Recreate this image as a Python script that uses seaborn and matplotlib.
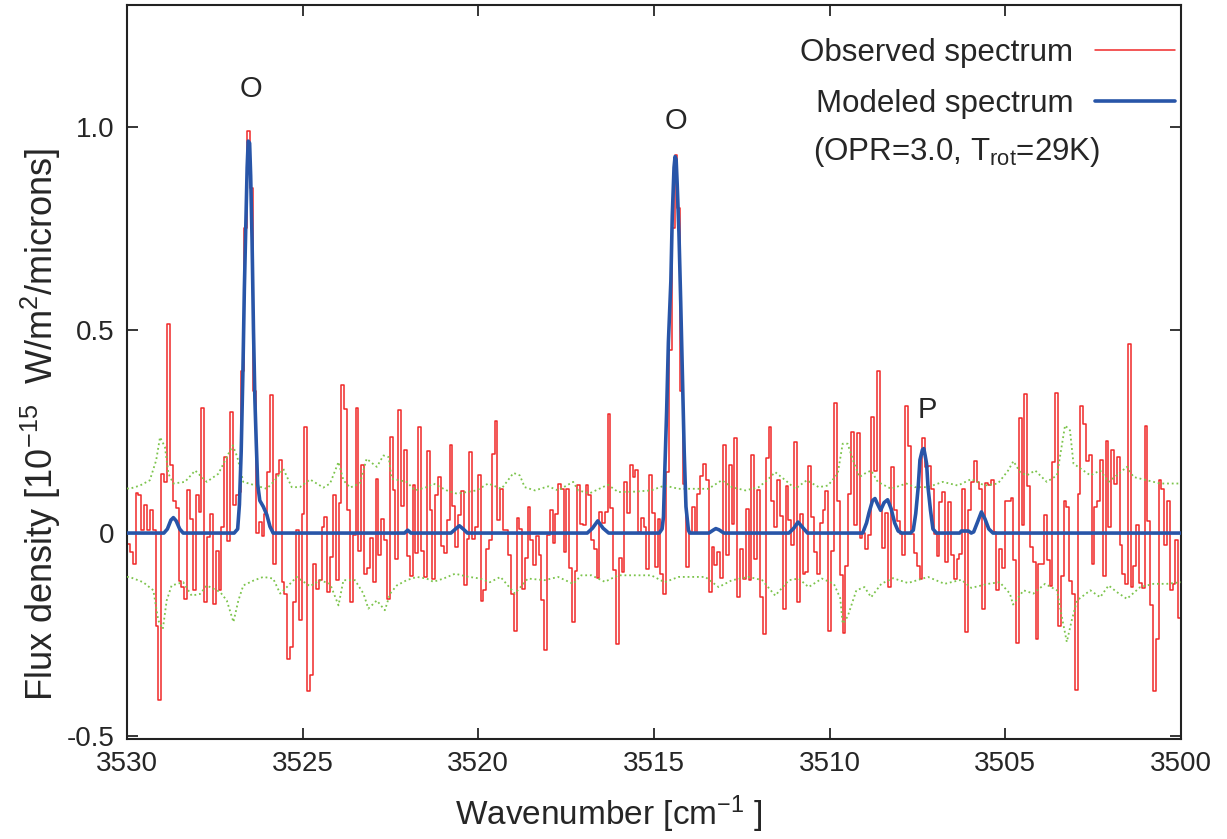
import numpy as np
import pandas as pd
import seaborn as sns
import matplotlib.pyplot as plt
from matplotlib.lines import Line2D

# observed spectrum in six chunks (step values, flux 1e-15 W/m2/micron)
chunk_edges = [3530.0, 3525.03, 3520.01, 3515.06, 3510.04, 3505.17, 3500.0]
obs_chunk1 = [-0.026, -0.047, -0.075, 0.098, 0.093, 0.007, 0.068, 0.007, 0.058, 0.007,
              -0.23, -0.41, 0.146, 0.126, 0.514, 0.168, 0.078, 0.062, -0.117, -0.133,
              -0.162, 0.105, 0.034, -0.14, 0.093, 0.051, 0.308, -0.17, -0.01, 0.046,
              -0.174, -0.044, -0.14, 0.015, 0.187, -0.02, 0.298, 0.07, 0.093,
              0.10, 0.40, 0.75, 0.99, 0.85, 0.35,
              0.0, 0.027, -0.008, 0.048, 0.15, 0.34, -0.075, 0.146, 0.18, -0.12,
              -0.15, -0.31, -0.28, -0.17, 0.008, -0.215]
obs_chunk2 = [0.048, 0.26, -0.39, -0.35, -0.075, -0.137, -0.115, 0.015, 0.039, -0.145,
              -0.06, 0.093, -0.115, 0.075, 0.364, 0.306, 0.058, -0.17, -0.006, 0.308,
              -0.043, 0.168, -0.10, -0.086, -0.013, -0.12, 0.133, -0.055, 0.034, -0.018,
              -0.162, 0.236, 0.107, -0.064, 0.302, 0.066, 0.205, -0.056, -0.105, 0.119,
              -0.049, 0.261, -0.043, -0.108, 0.202, 0.056, -0.114, 0.093, 0.137, -0.032,
              -0.048, 0.031, 0.218, 0.066, -0.034, 0.044, 0.103, -0.129, -0.014, 0.199,
              -0.015, 0.016]
obs_chunk3 = [0.144, -0.168, -0.14, -0.039, -0.016, 0.195, 0.277, 0.031, 0.109, 0.008,
              0.007, -0.053, -0.149, -0.24, 0.037, 0.011, -0.137, -0.062, 0.064, -0.018,
              -0.078, -0.007, -0.053, -0.166, -0.287, -0.006, 0.056, -0.025, 0.048, 0.122,
              0.108, -0.047, 0.109, -0.086, -0.219, -0.094, 0.119, 0.023, 0.019, 0.119,
              0.093, -0.018, -0.039, -0.111, 0.053, 0.025, 0.052, 0.294, 0.062, -0.092,
              -0.273, -0.062, -0.096, 0.126, 0.049, 0.167, 0.138, 0.156, 0.002, 0.037,
              0.015, -0.088, 0.144]
obs_chunk4 = [0.05, -0.084, 0.034, -0.10, -0.149,
              0.15, 0.45, 0.75, 0.93, 0.80, 0.35, 0.12,
              -0.084, 0.0, 0.064, 0.0, 0.097, 0.14, 0.171, 0.13, -0.144, -0.034,
              -0.078, -0.047, -0.111, 0.218, -0.053, 0.168, 0.023, 0.234, -0.158, -0.039,
              -0.112, 0.06, -0.115, 0.193, -0.064, 0.107, -0.158, -0.248, 0.185, 0.261,
              0.08, 0.016, 0.13, 0.041, -0.186, 0.117, 0.031, -0.03, 0.224, -0.17,
              0.048, -0.1, -0.096, 0.165, 0.039, -0.047, -0.1, 0.025, 0.058, 0.103]
obs_chunk5 = [-0.24, -0.043, 0.32, 0.078, -0.103, -0.245, -0.081, 0.097, 0.249, 0.021,
              0.246, -0.012, 0.0, -0.04, -0.006, 0.286, 0.154, 0.4, 0.064, -0.037,
              0.05, -0.133, 0.163, 0.058, 0.03, -0.002, -0.053, 0.314, 0.214, -0.002,
              -0.049, -0.08, -0.112, 0.235, 0.163, 0.165, 0.108, -0.002, -0.057, 0.076,
              0.101, -0.071, 0.076, -0.053, -0.112, -0.063, -0.051, 0.109, -0.244, 0.056,
              0.126, 0.177, 0.126, 0.109, -0.186, 0.123, 0.119, 0.13, 0.002, -0.141]
obs_chunk6 = [-0.039, -0.085, 0.078, 0.078, 0.086, -0.067, -0.27, 0.283, 0.019, 0.342,
              0.116, -0.034, -0.071, -0.262, -0.075, -0.075, 0.044, -0.067, -0.13, 0.175,
              0.345, -0.23, -0.106, 0.078, 0.064, -0.119, -0.149, -0.386, 0.097, 0.314,
              0.268, 0.177, 0.193, -0.075, 0.064, 0.078, 0.18, -0.106, 0.227, 0.015,
              0.205, 0.122, 0.187, -0.029, -0.1, -0.125, 0.465, -0.133, -0.081, 0.021,
              -0.122, -0.135, 0.264, 0.029, -0.177, -0.39, -0.26, 0.13, 0.109, -0.03,
              0.08, -0.14, -0.125, -0.016, -0.21]

# modeled spectrum (OPR=3.0, Trot=29K)
model_wn = [3530.0, 3528.95, 3528.85, 3528.75, 3528.68, 3528.6, 3528.5, 3528.4,
            3526.95, 3526.85, 3526.80, 3526.75, 3526.70, 3526.66, 3526.62, 3526.58, 3526.55,
            3526.51, 3526.48, 3526.44, 3526.40, 3526.36, 3526.32, 3526.28, 3526.22, 3526.12,
            3526.02, 3525.93, 3525.84,
            3522.1, 3522.01, 3521.92,
            3520.78, 3520.65, 3520.54, 3520.43, 3520.31,
            3516.9, 3516.75, 3516.6, 3516.45, 3516.29,
            3514.85, 3514.77, 3514.73, 3514.69, 3514.64, 3514.59, 3514.52, 3514.48, 3514.43,
            3514.40, 3514.37, 3514.34, 3514.29, 3514.24, 3514.19, 3514.14, 3514.09, 3514.02,
            3513.98,
            3513.44, 3513.3, 3513.24, 3513.15, 3513.01,
            3511.16, 3511.02, 3510.90, 3510.78, 3510.63,
            3509.06, 3508.95, 3508.88, 3508.78, 3508.71, 3508.63, 3508.55, 3508.45, 3508.35,
            3508.25, 3508.15, 3508.05, 3507.95,
            3507.70, 3507.62, 3507.55, 3507.48, 3507.43, 3507.36, 3507.32, 3507.28, 3507.24,
            3507.20, 3507.13, 3507.06, 3506.96,
            3506.3, 3506.25, 3506.05, 3505.97, 3505.90, 3505.80, 3505.68, 3505.58, 3505.47,
            3505.35, 3500.0]
model_flux = [0, 0, 0.01, 0.032, 0.038, 0.03, 0.01, 0,
              0, 0.01, 0.07, 0.2, 0.4, 0.6, 0.75, 0.9, 0.965,
              0.96, 0.88, 0.72, 0.5, 0.33, 0.22, 0.12, 0.08, 0.065,
              0.045, 0.016, 0,
              0, 0.007, 0,
              0, 0.01, 0.018, 0.01, 0,
              0, 0.012, 0.03, 0.012, 0,
              0, 0.01, 0.04, 0.16, 0.3, 0.47, 0.62, 0.78, 0.9,
              0.927, 0.92, 0.86, 0.74, 0.57, 0.385, 0.2, 0.065, 0.007,
              0,
              0, 0.008, 0.011, 0.008, 0,
              0, 0.012, 0.027, 0.015, 0,
              0, 0.025, 0.05, 0.08, 0.085, 0.07, 0.056, 0.075, 0.082,
              0.06, 0.025, 0.005, 0,
              0, 0.007, 0.048, 0.113, 0.18, 0.205, 0.208, 0.19, 0.17,
              0.113, 0.056, 0.01, 0,
              0, 0.005, 0.005, 0.0, 0.003, 0.025, 0.052, 0.035, 0.01,
              0, 0]

# noise level (+/- 1 sigma)
upper_wn = [3530.0, 3529.93, 3529.63, 3529.35, 3529.17, 3529.06, 3528.92, 3528.82, 3528.68,
            3528.35, 3528.06, 3527.73, 3527.40, 3527.16, 3526.99, 3526.86, 3526.69, 3526.02,
            3525.79, 3525.55, 3525.31, 3525.08, 3524.79, 3524.41, 3524.22, 3523.98, 3523.84,
            3523.65, 3523.37, 3523.18, 3522.89, 3522.70, 3522.55, 3522.47, 3522.04, 3521.80,
            3521.47, 3521.28, 3520.90, 3520.61, 3520.05, 3519.72, 3519.34, 3519.0, 3518.82,
            3518.68, 3518.39, 3518.01, 3517.73, 3517.49, 3517.30, 3517.16, 3516.83, 3516.31,
            3516.02, 3515.55, 3515.08, 3514.70, 3514.30, 3513.83, 3513.45, 3513.07, 3512.78,
            3512.40, 3512.02, 3511.78, 3511.55, 3511.26, 3510.98, 3510.65, 3510.31, 3510.05,
            3509.77, 3509.63, 3509.49, 3509.30, 3509.15, 3509.01, 3508.82, 3508.63, 3508.25,
            3507.82, 3507.58, 3507.20, 3506.78, 3506.35, 3505.97, 3505.59, 3505.21, 3504.92,
            3504.77, 3504.58, 3504.39, 3504.15, 3503.82, 3503.53, 3503.30, 3503.16, 3503.06,
            3502.58, 3502.30, 3502.06, 3501.83, 3501.54, 3501.35, 3500.97, 3500.59, 3500.0]
upper_flux = [0.11, 0.109, 0.117, 0.13, 0.179, 0.236, 0.212, 0.146, 0.122,
              0.126, 0.154, 0.126, 0.146, 0.187, 0.216, 0.187, 0.126, 0.109,
              0.13, 0.158, 0.113, 0.113, 0.132, 0.112, 0.122, 0.175, 0.13,
              0.112, 0.122, 0.183, 0.163, 0.191, 0.187, 0.134, 0.126, 0.105,
              0.113, 0.122, 0.105, 0.097, 0.105, 0.122, 0.109, 0.148, 0.142,
              0.113, 0.105, 0.115, 0.105, 0.117, 0.126, 0.105, 0.098, 0.119,
              0.101, 0.102, 0.105, 0.117, 0.109, 0.109, 0.109, 0.13, 0.113,
              0.105, 0.113, 0.13, 0.15, 0.13, 0.109, 0.13, 0.113, 0.117,
              0.146, 0.22, 0.22, 0.171, 0.138, 0.146, 0.154, 0.126, 0.109,
              0.122, 0.113, 0.113, 0.126, 0.117, 0.133, 0.117, 0.122, 0.154,
              0.177, 0.15, 0.142, 0.154, 0.126, 0.142, 0.265, 0.253, 0.171,
              0.142, 0.154, 0.126, 0.142, 0.163, 0.138, 0.13, 0.122, 0.122]
lower_wn = [3530.0, 3529.93, 3529.54, 3529.25, 3529.11, 3528.98, 3528.87, 3528.73, 3528.40,
            3528.16, 3527.92, 3527.73, 3527.35, 3527.16, 3526.97, 3526.83, 3526.69, 3526.40,
            3526.12, 3525.84, 3525.64, 3525.45, 3525.17, 3524.79, 3524.51, 3524.22, 3523.98,
            3523.84, 3523.51, 3523.27, 3523.13, 3522.89, 3522.66, 3522.51, 3522.32, 3522.04,
            3521.75, 3521.47, 3521.28, 3520.99, 3520.66, 3520.33, 3519.95, 3519.67, 3519.37,
            3518.96, 3518.59, 3518.11, 3517.73, 3517.30, 3517.07, 3516.78, 3516.40, 3516.02,
            3515.64, 3515.08, 3514.70, 3514.30, 3513.54, 3513.16, 3512.78, 3512.30, 3511.92,
            3511.55, 3511.16, 3510.88, 3510.60, 3510.22, 3509.88, 3509.70, 3509.63, 3509.49,
            3509.24, 3509.01, 3508.82, 3508.53, 3508.20, 3507.77, 3507.20, 3506.73, 3506.25,
            3505.97, 3505.49, 3505.16, 3504.87, 3504.78, 3504.48, 3504.20, 3503.87, 3503.53,
            3503.39, 3503.25, 3503.11, 3502.96, 3502.58, 3502.30, 3502.06, 3501.83, 3501.54,
            3501.16, 3500.78, 3500.40, 3500.0]
lower_flux = [-0.108, -0.108, -0.121, -0.141, -0.215, -0.236, -0.166, -0.129, -0.121,
              -0.154, -0.15, -0.129, -0.145, -0.166, -0.219, -0.166, -0.129, -0.117,
              -0.108, -0.112, -0.149, -0.133, -0.108, -0.131, -0.116, -0.125, -0.178,
              -0.116, -0.116, -0.149, -0.186, -0.166, -0.19, -0.149, -0.129, -0.116,
              -0.108, -0.112, -0.12, -0.112, -0.1, -0.107, -0.112, -0.121, -0.108,
              -0.149, -0.112, -0.116, -0.108, -0.125, -0.104, -0.104, -0.12, -0.104,
              -0.104, -0.104, -0.121, -0.108, -0.108, -0.133, -0.116, -0.108, -0.116,
              -0.154, -0.116, -0.112, -0.133, -0.112, -0.125, -0.16, -0.223, -0.206,
              -0.141, -0.133, -0.158, -0.125, -0.111, -0.123, -0.108, -0.125, -0.115,
              -0.135, -0.125, -0.121, -0.149, -0.176, -0.141, -0.149, -0.125, -0.141,
              -0.207, -0.268, -0.215, -0.166, -0.141, -0.158, -0.129, -0.145, -0.162,
              -0.133, -0.125, -0.125, -0.121]

line_labels = ["O", "O", "P"]
line_wn = [3526.47, 3514.37, 3507.23]
line_y = [1.094, 1.015, 0.303]

# build step series
chunks = [obs_chunk1, obs_chunk2, obs_chunk3, obs_chunk4, obs_chunk5, obs_chunk6]
obs_x, obs_y = [], []
for i, vals in enumerate(chunks):
    edges = np.linspace(chunk_edges[i], chunk_edges[i + 1], len(vals) + 1)[:-1]
    obs_x.extend(edges)
    obs_y.extend(vals)
obs_x.append(chunk_edges[-1])
obs_y.append(obs_y[-1])
obs = pd.DataFrame({"wn": obs_x, "flux": obs_y})

sns.set_style("ticks")
plt.rcParams["font.family"] = ["Liberation Sans", "DejaVu Sans"]
plt.rcParams["mathtext.fontset"] = "custom"
plt.rcParams["mathtext.rm"] = "Liberation Sans"
plt.rcParams["mathtext.it"] = "Liberation Sans:italic"

fig = plt.figure(figsize=(12.27, 8.39), dpi=100)
ax = fig.add_axes([0.1035, 0.1192, 0.859, 0.8748])

red = "#f02828"
blue = "#2855a8"
green = "#7cc44c"

sns.lineplot(data=obs, x="wn", y="flux", ax=ax, sort=False, estimator=None,
             drawstyle="steps-post", color=red, lw=1.1, zorder=2)
sns.lineplot(x=upper_wn, y=upper_flux, ax=ax, sort=False, estimator=None,
             color=green, lw=1.3, ls=(0, (1, 1.6)), zorder=3)
sns.lineplot(x=lower_wn, y=lower_flux, ax=ax, sort=False, estimator=None,
             color=green, lw=1.3, ls=(0, (1, 1.6)), zorder=3)
sns.lineplot(x=model_wn, y=model_flux, ax=ax, sort=False, estimator=None,
             color=blue, lw=2.6, zorder=4)

for lab, wx, wy in zip(line_labels, line_wn, line_y):
    ax.text(wx, wy, lab, ha="center", va="center", fontsize=21)

ax.set_xlim(3530, 3500)
ax.set_ylim(-0.507, 1.3)
ax.set_xticks([3530, 3525, 3520, 3515, 3510, 3505, 3500])
ax.set_yticks([-0.5, 0, 0.5, 1.0])
ax.set_yticklabels(["-0.5", "0", "0.5", "1.0"])
ax.tick_params(direction="in", length=8, width=1.3, labelsize=20,
               top=True, right=True, pad=9)
for s in ax.spines.values():
    s.set_linewidth(1.5)
    s.set_color("#222222")

ax.set_xlabel("Wavenumber [cm$^{-1}$ ]", fontsize=24)
ax.set_ylabel("Flux density [10$^{-15}$  W/m$^{2}$/microns]", fontsize=26)
ax.xaxis.set_label_coords(0.457, -0.074)
ax.yaxis.set_label_coords(-0.061, 0.428)

handles = [Line2D([], [], color=red, lw=1.1),
           Line2D([], [], color=blue, lw=2.6)]
labels = ["Observed spectrum", "Modeled spectrum"]
ax.legend(handles, labels, loc="upper right", bbox_to_anchor=(0.9943, 0.955),
          frameon=False, markerfirst=False, fontsize=22.5, handlelength=2.55,
          handletextpad=0.7, borderpad=0, borderaxespad=0, labelspacing=0.68)
ax.text(0.651, 0.789, "(OPR=3.0, T$_{\\rm rot}$=29K)", transform=ax.transAxes,
        ha="left", va="baseline", fontsize=22.5)

fig.savefig("out.png", dpi=100)
